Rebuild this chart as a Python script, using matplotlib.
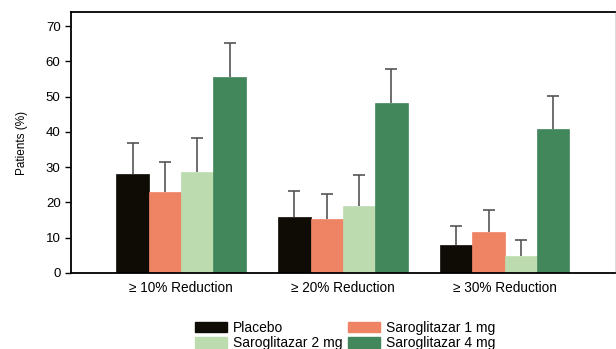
import numpy as np
import matplotlib.pyplot as plt
from matplotlib.patches import Patch

plt.rcParams['font.family'] = ['Liberation Sans', 'DejaVu Sans']

# 数据
groups = ["\u2265 10% Reduction", "\u2265 20% Reduction", "\u2265 30% Reduction"]
series = ["Placebo", "Saroglitazar 1 mg", "Saroglitazar 2 mg", "Saroglitazar 4 mg"]
placebo = [28.0, 15.9, 8.0]
saro_1mg = [23.0, 15.4, 11.6]
saro_2mg = [28.7, 19.1, 4.8]
saro_4mg = [55.5, 48.2, 40.8]
placebo_err = [8.9, 7.3, 5.4]
saro_1mg_err = [8.4, 7.0, 6.2]
saro_2mg_err = [9.6, 8.6, 4.5]
saro_4mg_err = [9.6, 9.5, 9.3]

colors = ["#0f0b05", "#ef8465", "#bcdcb0", "#42875c"]
values = [placebo, saro_1mg, saro_2mg, saro_4mg]
errors = [placebo_err, saro_1mg_err, saro_2mg_err, saro_4mg_err]

fig = plt.figure(figsize=(6.16, 3.49), dpi=100)
ax = fig.add_axes([0.1153, 0.2178, 0.8827, 0.7478])

x = np.arange(len(groups))
w = 0.2
for i in range(4):
    pos = x + (i - 1.5) * w
    ax.bar(pos, values[i], w, color=colors[i], edgecolor=colors[i], linewidth=0.5, zorder=2)
    # 只画上方误差线
    eb = ax.errorbar(pos, values[i], yerr=[np.zeros(3), errors[i]], fmt='none',
                     ecolor="#555555", elinewidth=1.2, capsize=4, capthick=1.2, zorder=3)
    eb[1][0].set_visible(False)

ax.set_xlim(-0.68, 2.68)
ax.set_ylim(0, 74)
ax.set_yticks(range(0, 71, 10))
ax.set_xticks(x)
ax.set_xticklabels(groups, fontsize=9.8)
ax.tick_params(axis='x', length=0, pad=6)
ax.tick_params(axis='y', labelsize=9.5, length=4, width=1, direction='out')
ax.set_ylabel("Patients (%)", fontsize=8.5, labelpad=13)
for s in ['left', 'bottom', 'top']:
    ax.spines[s].set_linewidth(1.3)
ax.spines['right'].set_linewidth(0.5)
ax.spines['right'].set_color("#cccccc")

# 图例按行排列：Placebo / 1 mg，2 mg / 4 mg
order = [0, 2, 1, 3]
handles = [Patch(facecolor=colors[k], edgecolor=colors[k]) for k in order]
labels = [series[k] for k in order]
fig.legend(handles, labels, loc='upper left', bbox_to_anchor=(195 / 616, 1 - 321 / 349),
           ncol=2, frameon=False, fontsize=10, borderpad=0, borderaxespad=0,
           handlelength=2.3, handleheight=0.8, handletextpad=0.45,
           labelspacing=0.08, columnspacing=0.4)

plt.savefig("out.png", dpi=100)
